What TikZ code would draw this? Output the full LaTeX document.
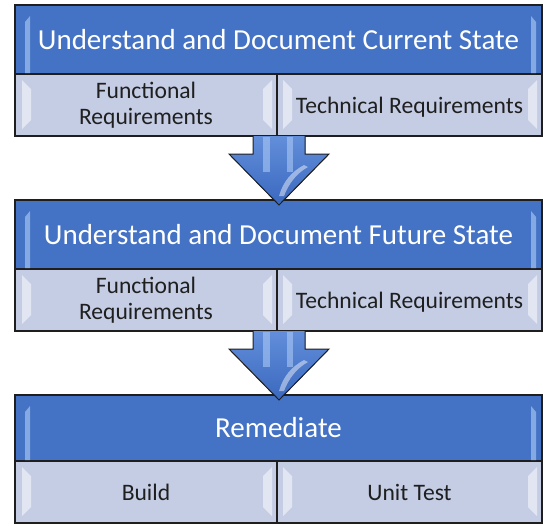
\documentclass[tikz,border=0pt]{standalone}
\usepackage{fontspec}
\setmainfont{Carlito}
\definecolor{hdrblue}{RGB}{68,114,196}
\definecolor{hdrlight}{RGB}{150,185,235}
\definecolor{cellblue}{RGB}{197,205,229}
\definecolor{edgecol}{RGB}{30,30,30}
\definecolor{arrtop}{RGB}{98,142,218}
\definecolor{arrbot}{RGB}{58,104,190}
\definecolor{arrhl}{RGB}{170,200,245}
\newcommand{\blockbevels}[3]{%
  % header strips
  \fill[hdrlight,opacity=.8] (25,#1+17) -- (30,#1+11) -- (30,#2-1) -- (25,#2-1) -- cycle;
  \fill[hdrlight,opacity=.8] (536,#1+17) -- (531,#1+11) -- (531,#2-1) -- (536,#2-1) -- cycle;
  % cell bevels
  \foreach \xa/\xb in {22/31, 272/263, 283/292, 537/528}{
    \fill[white,opacity=.5] (\xa,#2+6) -- (\xb,#2+15) -- (\xb,#3-16) -- (\xa,#3-7) -- cycle;
  }%
}
\newcommand{\blockarrow}[3]{%
  \filldraw[draw=edgecol,line width=1pt,top color=arrtop,bottom color=arrbot]
    (253,#1) -- (253,#2) -- (229,#2) -- (279,#3) -- (329,#2) -- (305,#2) -- (305,#1);
  \fill[arrhl,opacity=.6] (263,#1+1) rectangle (270,#2+18);
  \fill[arrhl,opacity=.6] (287,#1+1) rectangle (293,#2+18);
  \fill[white,opacity=.45] (304,#2+11) .. controls (291,#2+18) and (283,#2+28) .. (279,#2+42)
     -- (284,#2+42) .. controls (289,#2+29) and (297,#2+19) .. (308,#2+13) -- cycle;
}
\begin{document}
\begin{tikzpicture}[x=1pt,y=-1pt,
  hdr/.style={draw=edgecol, line width=1.3pt, fill=hdrblue, text=white,
    font=\fontsize{29}{34}\selectfont, minimum width=527pt, inner sep=0pt,
    text height=19pt, text depth=0pt},
  cell/.style={draw=edgecol, line width=1.3pt, fill=cellblue, text=black!88,
    font=\fontsize{23.6}{26}\selectfont, align=center, inner sep=0pt, minimum height=62pt},
  lcell/.style={cell, minimum width=262pt},
  rcell/.style={cell, minimum width=265pt, text height=16pt, text depth=0pt}
]
\useasboundingbox (0,0) rectangle (543,525);

% Block 1
\node[hdr, minimum height=69pt] (h1) at (278.5,39.5) {Understand and Document Current State};
\node[lcell] (f1) at (146,105) {Functional\\Requirements};
\node[rcell] (t1) at (409.5,105) {Technical Requirements};
\blockbevels{5}{74}{136}

% Block 2
\node[hdr, minimum height=69pt] (h2) at (278.5,234.5) {Understand and Document Future State};
\node[lcell] (f2) at (146,300) {Functional\\Requirements};
\node[rcell] (t2) at (409.5,300) {Technical Requirements};
\blockbevels{200}{269}{331}

% Block 3
\node[hdr, minimum height=66pt] (h3) at (278.5,428) {Remediate};
\node[lcell, text height=16pt, text depth=0pt] (b3) at (146,492) {Build};
\node[rcell] (u3) at (409.5,492) {Unit Test};
\blockbevels{395}{461}{523}

% Arrows
\blockarrow{136}{154}{205}
\blockarrow{331}{349}{400}
\end{tikzpicture}
\end{document}
